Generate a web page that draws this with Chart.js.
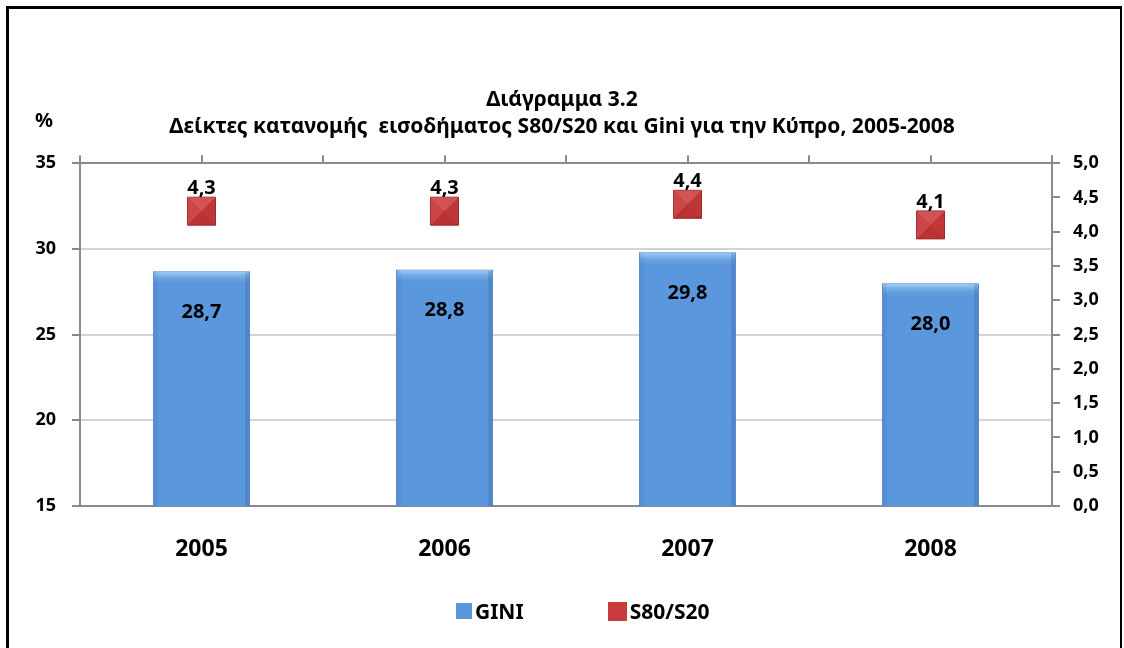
<!DOCTYPE html>
<html>
<head>
<meta charset="utf-8">
<script src="https://cdn.jsdelivr.net/npm/chart.js@4"></script>
<style>
  body { margin: 0; overflow: hidden; background: #fff; font-family: "Noto Sans", sans-serif; }
  #frame { position: absolute; left: 6px; top: 6px; width: 1116px; height: 700px; border: 3px solid #000; border-right-width: 2px; box-sizing: border-box; }
  #wrap { position: absolute; left: 0; top: 0; width: 1124px; height: 648px; }
  #legend { position: absolute; left: 456px; top: 597px; display: flex; align-items: center; font-weight: bold; font-size: 21px; color: #000; }
  .item { display: flex; align-items: center; margin-right: 84px; }
  .box { margin-right: 3px; }
</style>
</head>
<body>
<div id="frame"></div>
<div id="wrap"><canvas id="chart"></canvas></div>
<div id="legend"></div>
<script>
// δεδομένα
const years = ['2005', '2006', '2007', '2008'];
const giniValues = [28.7, 28.8, 29.8, 28.0];
const s80Values = [4.3, 4.3, 4.4, 4.1];
const seriesNames = ['GINI', 'S80/S20'];
const titleLines = ['Διάγραμμα 3.2', 'Δείκτες κατανομής  εισοδήματος S80/S20 και Gini για την Κύπρο, 2005-2008'];

const blue = '#5b97dd';
const red = '#c93c3d';
const axisGray = '#8a8a8a';

function fmt(v) {
    return v.toFixed(1).replace('.', ',');
}

// ανάγλυφο στις μπάρες και στα τετράγωνα
const bevel = {
    id: 'bevel',
    afterDatasetsDraw(chart) {
        const ctx = chart.ctx;
        const area = chart.chartArea;
        ctx.save();
        chart.getDatasetMeta(0).data.forEach(bar => {
            const w = bar.width;
            const left = bar.x - w / 2;
            const top = bar.y;
            const h = Math.min(bar.base, area.bottom) - top - 1;
            const g = ctx.createLinearGradient(0, top, 0, top + 14);
            g.addColorStop(0, '#a9d6fb');
            g.addColorStop(1, 'rgba(91,151,221,0)');
            ctx.fillStyle = g;
            ctx.fillRect(left + 1, top + 1, w - 2, 14);
            ctx.fillStyle = 'rgba(40,80,140,0.22)';
            ctx.fillRect(left + w - 5, top + 1, 4, h);
            ctx.fillStyle = 'rgba(40,80,140,0.10)';
            ctx.fillRect(left + 1, top + 1, 4, h);
        });
        chart.getDatasetMeta(1).data.forEach(pt => {
            const s = 14;
            const x = pt.x, y = pt.y;
            const faces = [
                [[x - s, y - s], [x + s, y - s], 'rgba(255,190,190,0.18)'],
                [[x + s, y - s], [x + s, y + s], 'rgba(90,0,0,0.08)'],
                [[x + s, y + s], [x - s, y + s], 'rgba(90,0,0,0.14)'],
                [[x - s, y + s], [x - s, y - s], 'rgba(255,190,190,0.08)']
            ];
            faces.forEach(f => {
                ctx.beginPath();
                ctx.moveTo(f[0][0], f[0][1]);
                ctx.lineTo(f[1][0], f[1][1]);
                ctx.lineTo(x, y);
                ctx.closePath();
                ctx.fillStyle = f[2];
                ctx.fill();
            });
        });
        ctx.restore();
    }
};

// ετικέτες τιμών + το "%"
const valueLabels = {
    id: 'valueLabels',
    afterDatasetsDraw(chart) {
        const ctx = chart.ctx;
        ctx.save();
        ctx.font = 'bold 20px "Noto Sans"';
        ctx.fillStyle = '#000';
        ctx.textAlign = 'center';
        ctx.textBaseline = 'middle';
        chart.getDatasetMeta(0).data.forEach((bar, i) => {
            ctx.fillText(fmt(giniValues[i]), bar.x, bar.y + 41);
        });
        chart.getDatasetMeta(1).data.forEach((pt, i) => {
            ctx.fillText(fmt(s80Values[i]), pt.x, pt.y - 23);
        });
        ctx.fillText('%', 44, chart.chartArea.top - 42);
        ctx.restore();
    }
};

const ctx = document.getElementById('chart').getContext('2d');
new Chart(ctx, {
    data: {
        labels: years,
        datasets: [
            {
                type: 'bar',
                label: seriesNames[0],
                data: giniValues,
                backgroundColor: blue,
                borderColor: '#4a7fc0',
                borderWidth: 1,
                barPercentage: 0.4,
                categoryPercentage: 1,
                yAxisID: 'y',
                order: 2
            },
            {
                type: 'line',
                label: seriesNames[1],
                data: s80Values,
                showLine: false,
                pointStyle: 'rect',
                pointRadius: 19.8,
                pointHoverRadius: 19.8,
                pointBackgroundColor: red,
                pointBorderColor: '#a02c2d',
                pointBorderWidth: 1,
                yAxisID: 'y2',
                order: 1
            }
        ]
    },
    options: {
        responsive: true,
        maintainAspectRatio: false,
        animation: false,
        layout: { padding: 0 },
        plugins: {
            legend: { display: false },
            tooltip: { enabled: false },
            title: {
                display: true,
                text: titleLines,
                color: '#000',
                font: { family: 'Noto Sans', size: 21, weight: 'bold', lineHeight: 1.29 },
                padding: { top: 86, bottom: 0 }
            }
        },
        scales: {
            x: {
                position: 'bottom',
                grid: { display: false },
                border: { color: axisGray, width: 2 },
                ticks: { color: '#000', font: { family: 'Noto Sans', size: 23, weight: 'bold' }, padding: 22 },
                afterFit(s) { s.height = 142; }
            },
            xTop: {
                type: 'linear',
                position: 'top',
                min: 0,
                max: 8,
                ticks: { display: false, stepSize: 1 },
                grid: { drawOnChartArea: false, tickLength: 8, color: axisGray, lineWidth: 2 },
                border: { color: axisGray, width: 2 },
                afterFit(s) { s.height = 23; }
            },
            y: {
                position: 'left',
                min: 15,
                max: 35,
                ticks: { stepSize: 5, color: '#000', font: { family: 'Noto Sans', size: 18, weight: 'bold' }, padding: 16 },
                grid: { color: '#d4d4d4', lineWidth: 2, tickColor: axisGray, tickLength: 8 },
                border: { color: axisGray, width: 2 },
                afterFit(s) { s.width = 80; }
            },
            y2: {
                position: 'right',
                min: 0,
                max: 5,
                ticks: {
                    stepSize: 0.5,
                    color: '#000',
                    font: { family: 'Noto Sans', size: 18, weight: 'bold' },
                    padding: 13,
                    callback: v => fmt(v)
                },
                grid: { drawOnChartArea: false, color: axisGray, tickLength: 8, lineWidth: 2 },
                border: { color: axisGray, width: 2 },
                afterFit(s) { s.width = 72; }
            }
        }
    },
    plugins: [bevel, valueLabels]
});

// υπόμνημα
const legendColors = [blue, red];
const legendSizes = [16, 19];
const legendEl = document.getElementById('legend');
seriesNames.forEach((name, i) => {
    const item = document.createElement('div');
    item.className = 'item';
    const box = document.createElement('span');
    box.className = 'box';
    box.style.width = legendSizes[i] + 'px';
    box.style.height = legendSizes[i] + 'px';
    box.style.background = legendColors[i];
    const txt = document.createElement('span');
    txt.textContent = name;
    item.appendChild(box);
    item.appendChild(txt);
    legendEl.appendChild(item);
});
</script>
</body>
</html>
